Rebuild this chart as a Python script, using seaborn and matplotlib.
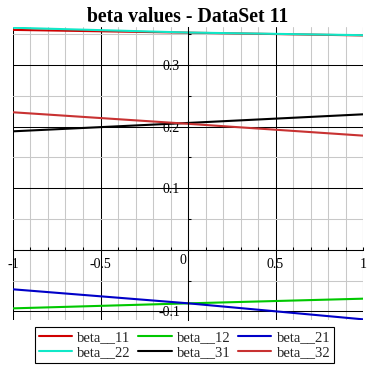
import matplotlib
matplotlib.use("Agg")
import numpy as np
import pandas as pd
import seaborn as sns
import matplotlib.pyplot as plt
from matplotlib.ticker import MultipleLocator, FuncFormatter
from matplotlib.lines import Line2D

# ---- data ----
x_vals = [-1.0, 0.0, 1.0]
beta_11 = [0.357, 0.3525, 0.348]
beta_12 = [-0.0949, -0.0868, -0.0792]
beta_21 = [-0.0640, -0.0867, -0.1127]
beta_22 = [0.3605, 0.3527, 0.3484]
beta_31 = [0.1924, 0.2060, 0.2200]
beta_32 = [0.2233, 0.2046, 0.1854]

series_names = ["beta__11", "beta__12", "beta__21", "beta__22", "beta__31", "beta__32"]
series_values = [beta_11, beta_12, beta_21, beta_22, beta_31, beta_32]
series_colors = ["#d00000", "#00c800", "#0000c8", "#10e8c8", "#000000", "#c83232"]

title_text = "beta values - DataSet 11"

rows = []
for name, vals in zip(series_names, series_values):
    for xv, yv in zip(x_vals, vals):
        rows.append({"x": xv, "value": yv, "series": name})
df = pd.DataFrame(rows)

sns.set_theme(style="white")
plt.rcParams["font.family"] = ["Liberation Serif", "DejaVu Serif"]
plt.rcParams["axes.unicode_minus"] = False

fig = plt.figure(figsize=(3.72, 3.72), dpi=100)
fig.patch.set_facecolor("white")
ax = fig.add_axes([13 / 372, 52 / 372, 350 / 372, 293 / 372])

sns.lineplot(data=df, x="x", y="value", hue="series", hue_order=series_names,
             palette=series_colors, estimator=None, sort=False, lw=1.5,
             legend=False, ax=ax)

ax.set_xlim(-1, 1)
ax.set_ylim(-0.1138, 0.3617)
ax.set_xlabel("")
ax.set_ylabel("")

ax.xaxis.set_major_locator(MultipleLocator(0.5))
ax.xaxis.set_minor_locator(MultipleLocator(0.1))
ax.yaxis.set_major_locator(MultipleLocator(0.1))
ax.yaxis.set_minor_locator(MultipleLocator(0.05))

def fmt(v, pos):
    if abs(v) < 1e-9:
        return ""
    return f"{round(v, 3):g}"

ax.xaxis.set_major_formatter(FuncFormatter(fmt))
ax.yaxis.set_major_formatter(FuncFormatter(fmt))

ax.set_axisbelow(True)
ax.grid(which="major", color="black", lw=0.75)
ax.grid(which="minor", color="#c8c8c8", lw=0.75)

for s in ["top", "right"]:
    ax.spines[s].set_visible(False)
ax.spines["left"].set_position(("data", 0))
ax.spines["bottom"].set_position(("data", 0))
for s in ["left", "bottom"]:
    ax.spines[s].set_color("black")
    ax.spines[s].set_linewidth(0.75)

ax.tick_params(which="both", direction="in", length=2.2, width=0.75,
               color="black", left=True, bottom=True, labelsize=10,
               pad=5.8, labelcolor="black")

ax.annotate("0", xy=(0, 0), xytext=(-4, -7.5), textcoords="offset points",
            ha="center", va="center", fontsize=10, color="black")

ax.set_title(title_text, fontsize=14.2, fontweight="bold", pad=3, color="black")

# legend filled row by row (matplotlib fills column-major, so reorder)
ncol = 3
nrow = int(np.ceil(len(series_names) / ncol))
order = [r * ncol + c for c in range(ncol) for r in range(nrow)]
handles = [Line2D([], [], color=series_colors[i], lw=1.5) for i in order]
labels = [series_names[i] for i in order]
leg = fig.legend(handles, labels, loc="upper center",
                 bbox_to_anchor=(184.5 / 372, 1 - 327 / 372), ncol=ncol,
                 fontsize=10.5, frameon=True, fancybox=False,
                 handlelength=2.3, handletextpad=0.35, columnspacing=0.5,
                 labelspacing=0.15, borderpad=0.25, borderaxespad=0)
leg.get_frame().set_edgecolor("black")
leg.get_frame().set_linewidth(0.8)
leg.get_frame().set_alpha(1)

fig.savefig("out.png", dpi=100)
